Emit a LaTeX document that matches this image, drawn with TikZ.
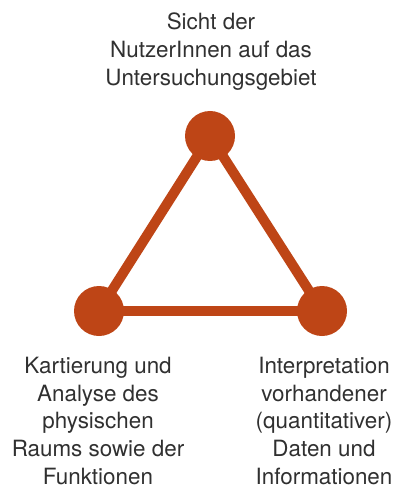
\documentclass[tikz,border=0pt]{standalone}
\usepackage{fontspec}
\setmainfont{TeX Gyre Heros}
\definecolor{rust}{RGB}{190,69,22}
\definecolor{ink}{RGB}{48,48,48}
\begin{document}
\begin{tikzpicture}[x=1pt,y=-1pt,
  vertex/.style={circle,fill=rust,draw=none,minimum size=50pt,inner sep=0pt},
  edge/.style={draw=rust,line width=10pt},
  caption/.style={align=center,anchor=base,inner sep=0pt,text=ink,
    font=\fontsize{22.4}{27.8}\selectfont}]
  \useasboundingbox (0,0) rectangle (398,486);

  % corners of the triangle
  \coordinate (pt) at (210,136);
  \coordinate (pl) at (99,311);
  \coordinate (pr) at (322,311);

  % sides, drawn first so the discs cover their ends
  \draw[edge] (pt) -- (pl);
  \draw[edge] (pt) -- (pr);
  \draw[edge] (pl) -- (pr);

  \node[vertex] (top) at (pt) {};
  \node[vertex] (left) at (pl) {};
  \node[vertex] (right) at (pr) {};

  % labels (the base anchor sits on the last line)
  \node[caption] (ltop) at (211,85.5)
    {Sicht der\\NutzerInnen auf das\\Untersuchungsgebiet};
  \node[caption] (lleft) at (98,484.5)
    {Kartierung und\\Analyse des\\physischen\\Raums sowie der\\Funktionen};
  \node[caption] (lright) at (324,484.5)
    {Interpretation\\vorhandener\\(quantitativer)\\Daten und\\Informationen};
\end{tikzpicture}
\end{document}
